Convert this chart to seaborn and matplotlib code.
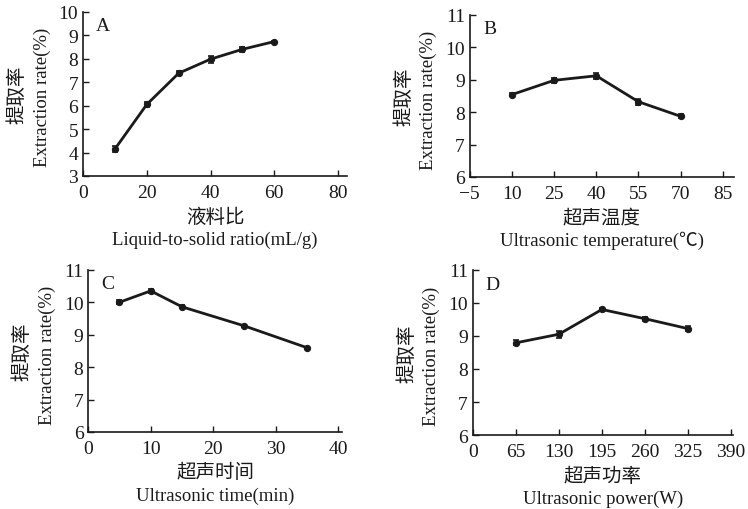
import matplotlib
matplotlib.use("Agg")
import matplotlib.pyplot as plt
import seaborn as sns
import pandas as pd

sns.set_theme(style="ticks")
plt.rcParams['font.family'] = ['Liberation Serif', 'Noto Sans CJK SC', 'DejaVu Sans']

# Panel A
a_x = [10, 20, 30, 40, 50, 60]
a_y = [4.15, 6.05, 7.38, 7.98, 8.40, 8.73]
a_err = [0.12, 0.12, 0.08, 0.15, 0.10, 0.04]
# Panel B
b_x = [10, 25, 40, 55, 70]
b_y = [8.54, 8.98, 9.12, 8.32, 7.87]
b_err = [0.05, 0.08, 0.09, 0.09, 0.06]
# Panel C
c_x = [5, 10, 15, 25, 35]
c_y = [10.0, 10.35, 9.86, 9.27, 8.60]
c_err = [0.06, 0.07, 0.05, 0.04, 0.03]
# Panel D
d_x = [65, 130, 195, 260, 325]
d_y = [8.79, 9.05, 9.80, 9.52, 9.22]
d_err = [0.08, 0.11, 0.05, 0.06, 0.08]

ylabel_cn = "提取率"
ylabel_en = "Extraction rate(%)"

panels = [
    dict(x=a_x, y=a_y, e=a_err, letter="A", xt=[0, 20, 40, 60, 80], yt=[3, 4, 5, 6, 7, 8, 9, 10],
         xlim=(0, 82.8), ylim=(3, 10), xcn="液料比", xen="Liquid-to-solid ratio(mL/g)",
         pos=[0.111, 0.653, 0.353, 0.322]),
    dict(x=b_x, y=b_y, e=b_err, letter="B", xt=[-5, 10, 25, 40, 55, 70, 85], yt=[6, 7, 8, 9, 10, 11],
         xlim=(-5, 88.9), ylim=(6, 11), xcn="超声温度", xen="Ultrasonic temperature(℃)",
         pos=[0.628, 0.651, 0.353, 0.318]),
    dict(x=c_x, y=c_y, e=c_err, letter="C", xt=[0, 10, 20, 30, 40], yt=[6, 7, 8, 9, 10, 11],
         xlim=(0, 40.6), ylim=(6, 11), xcn="超声时间", xen="Ultrasonic time(min)",
         pos=[0.118, 0.151, 0.339, 0.318]),
    dict(x=d_x, y=d_y, e=d_err, letter="D", xt=[0, 65, 130, 195, 260, 325, 390], yt=[6, 7, 8, 9, 10, 11],
         xlim=(0, 393), ylim=(6, 11), xcn="超声功率", xen="Ultrasonic power(W)",
         pos=[0.632, 0.145, 0.348, 0.324]),
]

ink = "#1a1a1a"
cjk = ['Noto Sans CJK SC', 'DejaVu Sans']
fig = plt.figure(figsize=(7.48, 5.10), dpi=100)
for p in panels:
    ax = fig.add_axes(p["pos"])
    df = pd.DataFrame({"x": p["x"], "y": p["y"]})
    sns.lineplot(data=df, x="x", y="y", ax=ax, color=ink, linewidth=2.0,
                 marker="o", markersize=4.5, markeredgecolor=ink)
    ax.errorbar(p["x"], p["y"], yerr=p["e"], fmt="none", ecolor=ink,
                elinewidth=1.2, capsize=2.5, capthick=1.2)
    ax.set_xlim(*p["xlim"])
    ax.set_ylim(*p["ylim"])
    ax.set_xticks(p["xt"])
    ax.set_yticks(p["yt"])
    ax.set_xticklabels([("−5" if v == -5 else str(v)) for v in p["xt"]])
    ax.tick_params(direction="in", length=4, width=1, labelsize=14, colors=ink)
    ax.tick_params(axis="x", pad=6)
    ax.tick_params(axis="y", pad=3.5)
    for s in ["top", "right"]:
        ax.spines[s].set_visible(False)
    for s in ["left", "bottom"]:
        ax.spines[s].set_linewidth(1.2)
        ax.spines[s].set_color(ink)
    ax.set_xlabel("")
    ax.set_ylabel("")
    ax.annotate(p["xcn"], xy=(0.5, 0), xycoords="axes fraction", xytext=(0, -40),
                textcoords="offset pixels", ha="center", va="center", fontsize=14,
                color=ink, family=cjk)
    ax.annotate(p["xen"], xy=(0.5, 0), xycoords="axes fraction", xytext=(0, -63),
                textcoords="offset pixels", ha="center", va="center", fontsize=13.5, color=ink)
    ax.annotate(ylabel_cn, xy=(0, 0.5), xycoords="axes fraction", xytext=(-66, 0),
                textcoords="offset pixels", ha="center", va="center", rotation=90,
                fontsize=14, color=ink, family=cjk)
    ax.annotate(ylabel_en, xy=(0, 0.5), xycoords="axes fraction", xytext=(-41, -3),
                textcoords="offset pixels", ha="center", va="center", rotation=90,
                fontsize=13.5, color=ink)
    ax.text(0.05, 0.965, p["letter"], transform=ax.transAxes, va="top", ha="left",
            fontsize=14, color=ink)
    ax.patch.set_alpha(0)

fig.savefig("out.png", dpi=100)
